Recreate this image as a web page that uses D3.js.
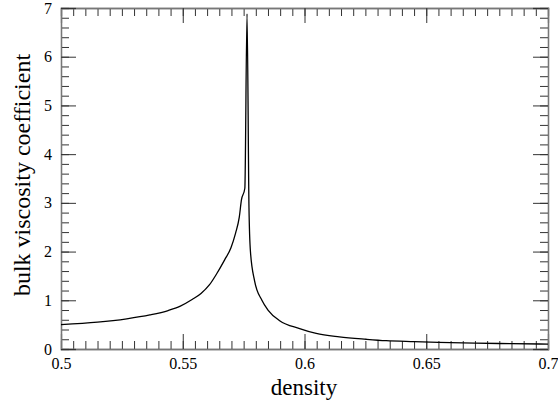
<!DOCTYPE html>
<html>
<head>
<meta charset="utf-8">
<script src="https://cdn.jsdelivr.net/npm/d3@7"></script>
<style>
  body { margin: 0; background: #fff; }
</style>
</head>
<body>
<svg id="chart"></svg>
<script>
// curve
const density = [0.500, 0.515, 0.527, 0.5365, 0.544, 0.549, 0.554, 0.5575, 0.5610, 0.5640,
  0.5672, 0.5698, 0.5717, 0.5732, 0.5741, 0.5755, 0.5764,
  0.5772, 0.5778, 0.5795, 0.5825, 0.585, 0.5898, 0.598, 0.6048, 0.6143, 0.6253, 0.6335,
  0.645, 0.655, 0.670, 0.685, 0.700];
const viscosity = [0.50, 0.55, 0.62, 0.70, 0.79, 0.88, 1.02, 1.14, 1.32, 1.55,
  1.83, 2.08, 2.38, 2.70, 3.06, 3.30, 6.88,
  2.90, 2.00, 1.40, 1.00, 0.80, 0.58, 0.42, 0.32, 0.25, 0.20, 0.17,
  0.15, 0.135, 0.12, 0.11, 0.10];

const xTicks = [0.5, 0.55, 0.6, 0.65, 0.7];
const yTicks = [0, 1, 2, 3, 4, 5, 6, 7];
const xMinor = d3.range(0, 41).map(i => 0.5 + i * 0.005);
const yMinor = d3.range(0, 36).map(i => i * 0.2);

const serif = '"Liberation Serif", serif';
const width = 558, height = 409;
const margin = { top: 8, right: 10, bottom: 60, left: 61 };

const svg = d3.select("#chart").attr("width", width).attr("height", height);

const x = d3.scaleLinear().domain([0.5, 0.7]).range([margin.left, width - margin.right]);
const y = d3.scaleLinear().domain([0, 7]).range([height - margin.bottom, margin.top]);

function styleAxis(g) {
  g.attr("font-family", serif).attr("font-size", 16);
  g.select(".domain").attr("stroke", "#777").attr("stroke-width", 1.3);
  g.selectAll(".tick line").attr("stroke", "#333");
  g.selectAll(".tick text").attr("fill", "#000")
    .style("font-family", serif)
    .style("font-size", "16px");
}

// minor ticks (inward, all four sides)
svg.append("g").attr("transform", `translate(0,${y(0)})`)
  .call(d3.axisBottom(x).tickValues(xMinor).tickSize(-8).tickFormat(""))
  .call(styleAxis);
svg.append("g").attr("transform", `translate(0,${y(7)})`)
  .call(d3.axisTop(x).tickValues(xMinor).tickSize(-8).tickFormat(""))
  .call(styleAxis);
svg.append("g").attr("transform", `translate(${x(0.5)},0)`)
  .call(d3.axisLeft(y).tickValues(yMinor).tickSize(-8).tickFormat(""))
  .call(styleAxis);
svg.append("g").attr("transform", `translate(${x(0.7)},0)`)
  .call(d3.axisRight(y).tickValues(yMinor).tickSize(-8).tickFormat(""))
  .call(styleAxis);

// major ticks with labels
svg.append("g").attr("transform", `translate(0,${y(0)})`)
  .call(d3.axisBottom(x).tickValues(xTicks).tickSize(-15).tickPadding(9).tickFormat(d3.format("")))
  .call(styleAxis);
svg.append("g").attr("transform", `translate(0,${y(7)})`)
  .call(d3.axisTop(x).tickValues(xTicks).tickSize(-15).tickFormat(""))
  .call(styleAxis);
svg.append("g").attr("transform", `translate(${x(0.5)},0)`)
  .call(d3.axisLeft(y).tickValues(yTicks).tickSize(-15).tickPadding(9).tickFormat(d3.format("d")))
  .call(styleAxis);
svg.append("g").attr("transform", `translate(${x(0.7)},0)`)
  .call(d3.axisRight(y).tickValues(yTicks).tickSize(-15).tickFormat(""))
  .call(styleAxis);

// the curve
const points = density.map((d, i) => [d, viscosity[i]]);
const line = d3.line().x(d => x(d[0])).y(d => y(d[1])).curve(d3.curveMonotoneX);

svg.append("path")
  .datum(points)
  .attr("d", line)
  .attr("fill", "none")
  .attr("stroke", "#000")
  .attr("stroke-width", 1.3);

// axis titles
svg.append("text")
  .attr("x", 304)
  .attr("y", 395)
  .attr("text-anchor", "middle")
  .style("font-family", serif)
  .style("font-size", "23px")
  .text("density");

svg.append("text")
  .attr("transform", `translate(30,175) rotate(-90)`)
  .attr("text-anchor", "middle")
  .style("font-family", serif)
  .style("font-size", "24px")
  .text("bulk viscosity coefficient");
</script>
</body>
</html>
